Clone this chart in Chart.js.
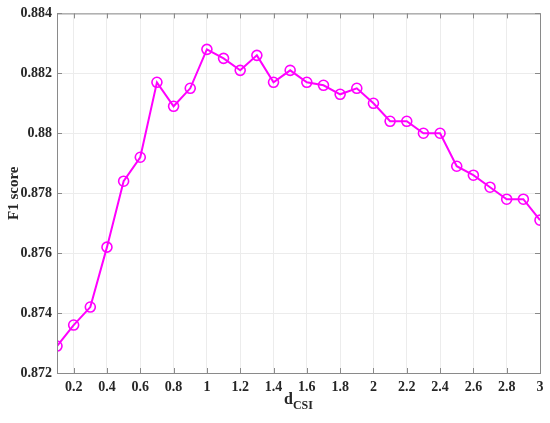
<!DOCTYPE html>
<html>
<head>
<meta charset="utf-8">
<script src="https://cdn.jsdelivr.net/npm/chart.js@4"></script>
<style>
    html, body { margin: 0; padding: 0; background: #fff; }
    #wrap { width: 550px; height: 423px; position: relative; }
</style>
</head>
<body>
<div id="wrap"><canvas id="f1Chart" width="550" height="423"></canvas></div>
<script>
// DATA
const dValues = [0.1, 0.2, 0.3, 0.4, 0.5, 0.6, 0.7, 0.8, 0.9, 1.0,
                 1.1, 1.2, 1.3, 1.4, 1.5, 1.6, 1.7, 1.8, 1.9, 2.0,
                 2.1, 2.2, 2.3, 2.4, 2.5, 2.6, 2.7, 2.8, 2.9, 3.0];
const f1Scores = [0.8729, 0.8736, 0.8742, 0.8762, 0.8784, 0.8792, 0.8817, 0.8809, 0.8815, 0.8828,
                  0.8825, 0.8821, 0.8826, 0.8817, 0.8821, 0.8817, 0.8816, 0.8813, 0.8815, 0.8810,
                  0.8804, 0.8804, 0.8800, 0.8800, 0.8789, 0.8786, 0.8782, 0.8778, 0.8778, 0.8771];
const xTicks = [0.2, 0.4, 0.6, 0.8, 1, 1.2, 1.4, 1.6, 1.8, 2, 2.2, 2.4, 2.6, 2.8, 3];
const yTicks = [0.872, 0.874, 0.876, 0.878, 0.880, 0.882, 0.884];

const serifBold = { family: "'Liberation Serif', 'Times New Roman', serif", size: 14, weight: "bold" };
const axisGray = "#8a8a8a";
const textColor = "#262626";

/* -------------------------
   BOX, INWARD TICKS, X TITLE
--------------------------*/
const matlabAxes = {
    id: "matlabAxes",
    afterDatasetsDraw(chart) {
        const { ctx, chartArea: a, scales } = chart;
        ctx.save();
        ctx.strokeStyle = axisGray;
        ctx.lineWidth = 1;
        ctx.strokeRect(a.left + 0.5, a.top + 0.5, a.right - a.left, a.bottom - a.top);
        ctx.beginPath();
        xTicks.forEach(v => {
            const px = Math.round(scales.x.getPixelForValue(v)) + 0.5;
            ctx.moveTo(px, a.top); ctx.lineTo(px, a.top + 5);
            ctx.moveTo(px, a.bottom); ctx.lineTo(px, a.bottom - 5);
        });
        yTicks.forEach(v => {
            const py = Math.round(scales.y.getPixelForValue(v)) + 0.5;
            ctx.moveTo(a.left, py); ctx.lineTo(a.left + 5, py);
            ctx.moveTo(a.right, py); ctx.lineTo(a.right - 5, py);
        });
        ctx.stroke();

        // x title: d with subscript CSI
        const cx = (a.left + a.right) / 2;
        ctx.fillStyle = textColor;
        ctx.textBaseline = "alphabetic";
        ctx.font = "bold 16px 'Liberation Serif', serif";
        const dW = ctx.measureText("d").width;
        ctx.font = "bold 12px 'Liberation Serif', serif";
        const sW = ctx.measureText("CSI").width;
        const x0 = cx - (dW + sW) / 2;
        ctx.font = "bold 16px 'Liberation Serif', serif";
        ctx.textAlign = "left";
        ctx.fillText("d", x0, a.bottom + 31);
        ctx.font = "bold 12px 'Liberation Serif', serif";
        ctx.fillText("CSI", x0 + dW, a.bottom + 36);
        ctx.restore();
    }
};

/* -------------------------
   CHART
--------------------------*/
new Chart(document.getElementById("f1Chart"), {
    type: "line",
    data: {
        datasets: [{
            data: dValues.map((d, i) => ({ x: d, y: f1Scores[i] })),
            borderColor: "#ff00ff",
            borderWidth: 2,
            pointStyle: "circle",
            pointRadius: 5,
            pointBorderWidth: 1.6,
            pointBorderColor: "#ff00ff",
            pointBackgroundColor: "rgba(0,0,0,0)",
            tension: 0
        }]
    },
    options: {
        responsive: false,
        animation: false,
        layout: { padding: { top: 13, right: 10, left: 5, bottom: 0 } },
        plugins: { legend: { display: false }, tooltip: { enabled: false } },
        scales: {
            x: {
                type: "linear",
                min: 0.1,
                max: 3,
                afterBuildTicks: s => { s.ticks = xTicks.map(v => ({ value: v })); },
                afterFit: s => { s.height = 50; },
                ticks: {
                    font: serifBold,
                    color: textColor,
                    padding: 6,
                    maxRotation: 0,
                    autoSkip: false,
                    callback: v => String(parseFloat(v.toFixed(1)))
                },
                grid: { color: "#ececec", drawTicks: false },
                border: { display: false }
            },
            y: {
                min: 0.872,
                max: 0.884,
                afterBuildTicks: s => { s.ticks = yTicks.map(v => ({ value: v })); },
                afterFit: s => { s.width = 52; },
                ticks: {
                    font: serifBold,
                    color: textColor,
                    padding: 5,
                    callback: v => String(parseFloat(v.toFixed(3)))
                },
                title: {
                    display: true,
                    text: "F1 score",
                    font: { family: serifBold.family, size: 15, weight: "bold" },
                    color: textColor,
                    padding: { top: 0, bottom: 0 }
                },
                grid: { color: "#ececec", drawTicks: false },
                border: { display: false }
            }
        }
    },
    plugins: [matlabAxes]
});
</script>
</body>
</html>
